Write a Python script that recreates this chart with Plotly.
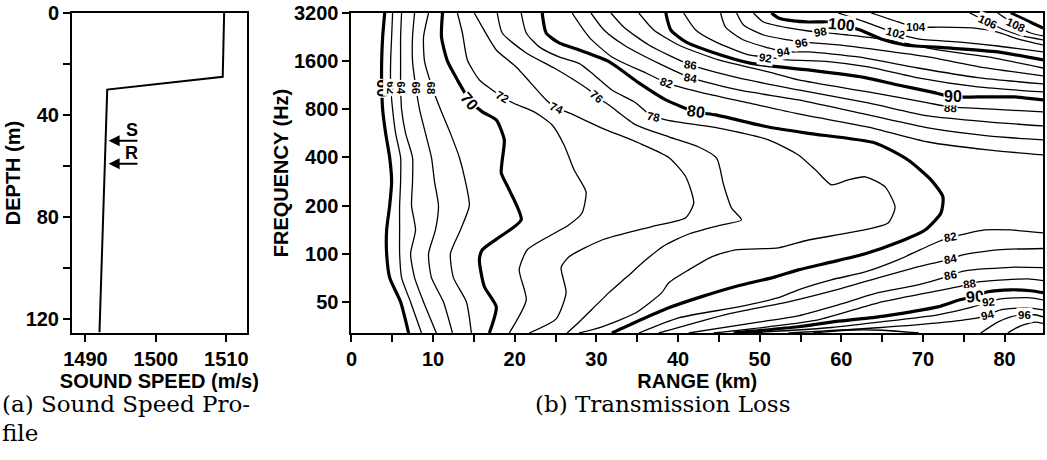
import numpy as np
import plotly.graph_objects as go

# ---------------- (a) sound speed profile ----------------
profile_speed = [1509.7, 1509.5, 1493.1, 1492.0]
profile_depth = [0, 25, 30, 125]
source_depth = 50
receiver_depth = 59
depth_ticks = [0, 20, 40, 60, 80, 100, 120]
depth_ticktext = ["0", "", "40", "", "80", "", "120"]
speed_ticks = [1490, 1500, 1510]

# ---------------- (b) transmission loss contours (dB) ----------------
freq_std = [3200, 2263, 1600, 1131, 800, 566, 400, 283, 200, 141, 100, 71, 50, 32]

range_60 = [4.07, 3.82, 3.70, 3.70, 3.82, 4.19, 4.68, 4.92, 4.68, 4.31, 4.31, 4.68, 6.02, 7.0]
range_62 = [5.04, 4.92, 4.80, 4.80, 5.04, 5.41, 6.02, 6.02, 5.90, 5.90, 5.90, 6.14, 7.24, 8.58]
range_64 = [6.14, 6.02, 6.02, 6.02, 6.14, 6.63, 7.48, 7.48, 7.36, 7.85, 7.24, 7.73, 8.83, 10.4]
range_66 = [7.73, 7.48, 7.48, 7.85, 8.34, 9.07, 9.80, 10.17, 10.66, 10.29, 9.44, 9.80, 11.27, 12.37]
range_68 = [9.44, 8.83, 8.95, 9.80, 10.90, 12.12, 13.22, 13.96, 14.44, 13.35, 12.12, 12.49, 14.08, 14.69]

range_70 = [11.15, 11.03, 11.76, 12.98, 14.44, 16.03, 17.74, 18.72, 18.47, 18.35, 19.33, 20.79, 18.1, 16.03, 15.67, 16.27, 17.74, 16.89]
freq_70 = [3200, 2263, 1600, 1221, 916, 771, 687, 515, 386, 320, 251, 163, 127, 106, 91.7, 62.5, 46.6, 32]

range_72 = [12.98, 13.59, 14.2, 15.67, 17.25, 18.47, 19.94, 22.38, 24.58, 26.04, 27.26, 28.73, 28.24, 26.65, 23.97, 21.53, 20.55, 21.41, 19.33]
freq_72 = [3200, 2400, 1628, 1221, 1057, 956, 870, 771, 639, 479, 335, 244, 180, 152, 127, 106, 79.4, 51.6, 32]

range_74 = [15.05, 16.03, 17.74, 20.18, 23.85, 25.07, 26.65, 30.68, 35.2, 38.87, 40.94, 41.92, 40.94, 36.79, 30.68, 26.65, 25.68, 26.29, 25.07, 21.77]
freq_74 = [3200, 2610, 1880, 1470, 916, 816, 760, 611, 493, 400, 303, 208, 168, 148, 122, 95.8, 82.4, 57.2, 39.2, 32]

range_76 = [17.86, 18.47, 21.41, 24.83, 27.27, 29.1, 30.07, 31.54, 34.84, 38.87, 42.53, 44.73, 45.58, 46.56, 47.78,
            44.97, 41.31, 38.25, 36.06, 33.74, 31.54, 27.88, 26.41]
freq_76 = [3200, 2400, 1800, 1450, 1221, 1057, 956, 852, 639, 538, 465, 396, 270, 193, 163,
           150, 133, 112, 91.7, 71.8, 57.2, 37.5, 32]

range_78 = [20.79, 21.41, 23.0, 25.43, 27.88, 29.71, 31.9, 34.84, 36.42, 38.5, 44.97, 51.08, 54.74, 56.82, 58.77,
            60.85, 62.92, 65.36, 66.58, 65.73, 60.85, 55.96, 52.30, 47.04, 44.11, 41.31, 38.87, 38.01, 34.84, 30.68, 27.88]
freq_78 = [3200, 2400, 1965, 1700, 1550, 1312, 1057, 877, 749, 687, 611, 515, 415, 335, 270,
           290, 303, 262, 196, 156, 135, 122, 109, 106, 95.8, 79.4, 66.0, 57.2, 42.8, 35.0, 32]

range_80 = [23.36, 23.85, 25.43, 27.88, 31.54, 35.2, 38.5, 42.16, 44.6, 51.08, 55.96, 64.14, 68.17, 70.98, 72.44,
            72.2, 70.25, 66.95, 62.92, 58.77, 54.74, 51.93, 47.04, 42.89, 38.87, 34.84, 31.9]
freq_80 = [3200, 2400, 2080, 1880, 1590, 1170, 916, 771, 738, 620, 566, 493, 386, 290, 227,
           180, 141, 118, 100, 88.8, 79.4, 71.8, 62.5, 54.0, 46.0, 37.5, 32]

# upper (high-frequency) family
range_82_hi = [27.02, 29.1, 31.9, 36.06, 38.62, 42.53, 48.63, 54.74, 63.29, 70.62, 77.94, 84.7]
freq_82_hi = [3200, 2263, 1700, 1350, 1170, 1028, 877, 749, 620, 500, 446, 415]
range_84_hi = [29.34, 30.93, 33.37, 37.64, 41.55, 47.41, 54.74, 63.29, 70.62, 77.94, 84.7]
freq_84_hi = [3200, 2506, 2020, 1550, 1263, 1057, 916, 738, 612, 546, 515]
range_86_hi = [31.78, 33.37, 36.42, 41.55, 47.41, 54.74, 63.29, 70.62, 77.94, 84.7]
freq_86_hi = [3200, 2610, 2020, 1515, 1257, 1057, 877, 728, 668, 630]
range_88_hi = [35.2, 37.03, 40.08, 44.97, 51.08, 54.74, 63.29, 70.62, 73.42, 77.94, 84.7]
freq_88_hi = [3200, 2506, 2020, 1628, 1371, 1221, 1028, 877, 828, 805, 771]
range_90_hi = [38.5, 39.11, 40.94, 44.11, 48.99, 55.96, 62.92, 66.95, 70.98, 73.66, 76.71, 81.23, 84.7]
freq_90_hi = [3200, 2506, 2110, 1828, 1550, 1410, 1263, 1136, 1028, 956, 956, 956, 916]
range_92_hi = [40.69, 42.16, 44.6, 48.63, 50.7, 53.52, 58.4, 63.29, 69.39, 76.71, 84.7]
freq_92_hi = [3200, 2506, 2110, 1750, 1700, 1628, 1590, 1472, 1257, 1104, 1028]
range_94_hi = [45.21, 45.82, 48.02, 51.08, 52.91, 55.96, 62.07, 69.39, 76.71, 84.7]
freq_94_hi = [3200, 2610, 2171, 1935, 1828, 1828, 1700, 1450, 1263, 1153]
range_96_hi = [47.17, 48.02, 50.46, 53.52, 55.1, 59.62, 64.5, 70.62, 76.71, 84.7]
freq_96_hi = [3200, 2694, 2332, 2171, 2110, 2020, 1880, 1700, 1480, 1294]
range_98_hi = [49.24, 50.46, 53.52, 55.96, 57.42, 60.85, 65.73, 71.83, 77.94, 84.7]
freq_98_hi = [3200, 2812, 2581, 2470, 2434, 2332, 2171, 1880, 1700, 1450]
range_100 = [51.44, 52.3, 54.13, 55.96, 58.4, 59.99, 62.31, 64.87, 67.8, 73.05, 79.15, 84.7]
freq_100 = [3200, 2980, 2855, 2812, 2812, 2694, 2506, 2203, 2020, 1935, 1828, 1628]
range_102 = [59.62, 63.29, 66.58, 69.39, 74.27, 79.15, 84.7]
freq_102 = [3200, 2770, 2400, 2203, 2110, 1990, 1828]
range_104 = [63.66, 66.95, 69.14, 71.83, 76.1, 79.15, 81.6, 84.7]
freq_104 = [3200, 2812, 2610, 2610, 2581, 2434, 2203, 2020]
range_106 = [75.73, 77.94, 80.01, 82.21, 84.7]
freq_106 = [3200, 2812, 2506, 2300, 2171]
range_108 = [79.15, 81.36, 83.19, 84.7]
freq_108 = [3200, 2694, 2400, 2300]
range_110 = [80.74, 84.7]
freq_110 = [3200, 2581]

# lower (low-frequency) family
range_82_lo = [35.2, 40.08, 47.41, 52.3, 54.74, 58.77, 62.92, 66.95, 71.83, 73.42, 77.57, 80.74, 84.7]
freq_82_lo = [32, 39.8, 46.6, 53.2, 59.6, 68.8, 77.1, 91.7, 119, 127, 141, 141, 135]
range_84_lo = [37.64, 46.19, 53.52, 58.77, 64.5, 69.02, 71.83, 73.42, 74.88, 79.15, 84.7]
freq_84_lo = [32, 42.2, 50.1, 58.4, 70.8, 81.9, 88.8, 93, 98.5, 106, 108]
range_86_lo = [41.31, 49.85, 54.74, 59.62, 64.5, 69.39, 72.44, 73.42, 75.13, 80.74, 84.7]
freq_86_lo = [32, 37.4, 41.0, 48.0, 57.2, 64.0, 70.8, 73.9, 78.3, 82.4, 81.9]
range_88_lo = [44.36, 51.08, 57.17, 64.5, 70.62, 74.52, 75.74, 77.08, 82.82, 84.7]
freq_88_lo = [32, 35.0, 38.7, 49.4, 57.2, 62.5, 65, 67, 69.8, 68]
range_90_lo = [46.8, 54.74, 58.77, 64.5, 68.52, 71.83, 74.52, 76.35, 77.94, 80.74, 83.19, 84.7]
freq_90_lo = [32, 35.0, 37.4, 40.4, 43.4, 46.6, 51.6, 54.0, 57.9, 59.6, 58.8, 57.2]
range_92_lo = [48.63, 58.4, 64.5, 71.83, 76.1, 78.06, 79.52, 82.82, 84.7]
freq_92_lo = [32, 34.5, 37.4, 41.6, 46.6, 50.1, 52.3, 53.2, 51.6]
range_94_lo = [53.52, 64.5, 72.68, 76.71, 77.94, 79.52, 82.82, 84.7]
freq_94_lo = [32, 34.5, 37.4, 39.8, 41.6, 44.7, 46.0, 44.7]
range_96_lo = [77.08, 79.15, 80.74, 82.46, 83.68, 84.7]
freq_96_lo = [32, 37.4, 40.4, 41.6, 41.6, 40.4]
range_96_arc = [56.5, 60.5, 65.0, 69.5]
freq_96_arc = [32, 33.3, 33.3, 32]
range_98_lo = [80.38, 81.97, 83.68, 84.7]
freq_98_lo = [32, 35.5, 37.4, 36.8]

# contour labels
label_text = ["60", "62", "64", "66", "68", "70", "72", "74", "76", "78", "80",
              "82", "84", "86", "88", "90", "92", "94", "96", "98", "100", "102", "104", "106", "108",
              "82", "84", "86", "88", "90", "92", "94", "96"]
label_range = [3.70, 4.80, 6.02, 7.85, 9.80, 14.44, 18.47, 25.07, 30.07, 37.03, 42.16,
               38.62, 41.55, 41.55, 73.42, 73.66, 50.7, 52.9, 55.1, 57.42, 59.99, 66.58, 69.14, 77.94, 81.36,
               73.42, 73.42, 73.42, 75.74, 76.35, 78.06, 77.94, 82.46]
label_freq = [1088, 1088, 1088, 1088, 1088, 891, 956, 816, 956, 718, 771,
              1170, 1263, 1515, 815, 960, 1680, 1828, 2080, 2434, 2694, 2400, 2610, 2820, 2694,
              127, 93, 73.9, 65, 54.1, 50.1, 41.6, 41.6]
label_angle = [90, 90, 90, 90, 90, 50, 30, 25, 40, 12, 8,
               20, 10, 8, 3, 0, 8, -10, -10, -10, 5, 15, 0, 25, 25,
               -10, -10, -10, -8, -5, -5, -15, 0]

range_ticks = list(range(0, 85, 5))
range_ticktext = [str(v) if v % 10 == 0 else "" for v in range_ticks]
freq_ticks = [50, 100, 200, 400, 800, 1600, 3200]

contours = [
    (60, range_60, freq_std), (62, range_62, freq_std), (64, range_64, freq_std),
    (66, range_66, freq_std), (68, range_68, freq_std), (70, range_70, freq_70),
    (72, range_72, freq_72), (74, range_74, freq_74), (76, range_76, freq_76),
    (78, range_78, freq_78), (80, range_80, freq_80),
    (82, range_82_hi, freq_82_hi), (84, range_84_hi, freq_84_hi), (86, range_86_hi, freq_86_hi),
    (88, range_88_hi, freq_88_hi), (90, range_90_hi, freq_90_hi), (92, range_92_hi, freq_92_hi),
    (94, range_94_hi, freq_94_hi), (96, range_96_hi, freq_96_hi), (98, range_98_hi, freq_98_hi),
    (100, range_100, freq_100), (102, range_102, freq_102), (104, range_104, freq_104),
    (106, range_106, freq_106), (108, range_108, freq_108), (110, range_110, freq_110),
    (82, range_82_lo, freq_82_lo), (84, range_84_lo, freq_84_lo), (86, range_86_lo, freq_86_lo),
    (88, range_88_lo, freq_88_lo), (90, range_90_lo, freq_90_lo), (92, range_92_lo, freq_92_lo),
    (94, range_94_lo, freq_94_lo), (96, range_96_lo, freq_96_lo), (96, range_96_arc, freq_96_arc),
    (98, range_98_lo, freq_98_lo),
]

SANS = "Liberation Sans, Arial, sans-serif"
SERIF = "DejaVu Serif, serif"
BOLD = dict(family=SANS, size=20, color="black", weight="bold")

fig = go.Figure()

# panel (a)
fig.add_trace(go.Scatter(x=profile_speed, y=profile_depth, mode="lines",
                         line=dict(color="black", width=2), xaxis="x", yaxis="y",
                         showlegend=False, hoverinfo="skip"))

# panel (b)
for level, rr, ff in contours:
    thick = level % 10 == 0
    fig.add_trace(go.Scatter(x=rr, y=ff, mode="lines",
                             line=dict(color="black", width=3.2 if thick else 1.3,
                                       shape="spline", smoothing=0.6),
                             xaxis="x2", yaxis="y2", showlegend=False, hoverinfo="skip"))

annotations = []
for t, r, f, a in zip(label_text, label_range, label_freq, label_angle):
    thick = int(t) % 10 == 0
    annotations.append(dict(x=r, y=np.log10(f), xref="x2", yref="y2", text=t, showarrow=False,
                            textangle=a, bgcolor="white", borderpad=0 if (thick or t == "88") else 1,
                            font=dict(family=SANS, size=16 if thick else 11.5, color="black",
                                      weight="bold")))

# source / receiver arrows
for name, d in zip(["S", "R"], [source_depth, receiver_depth]):
    annotations.append(dict(x=1493.3, y=d, ax=1497.6, ay=d, xref="x", yref="y", axref="x", ayref="y",
                            text="", showarrow=True, arrowhead=2, arrowsize=1.1, arrowwidth=2,
                            arrowcolor="black"))
    annotations.append(dict(x=1496.6, y=d - 4.2, xref="x", yref="y", text=name, showarrow=False,
                            font=dict(family=SANS, size=18, color="black", weight="bold")))

# captions
annotations.append(dict(x=-0.074, y=-0.221, xref="paper", yref="paper", xanchor="left", yanchor="middle",
                        text="(a) Sound Speed Pro-", showarrow=False,
                        font=dict(family=SERIF, size=23, color="black")))
annotations.append(dict(x=-0.074, y=-0.314, xref="paper", yref="paper", xanchor="left", yanchor="middle",
                        text="file", showarrow=False, font=dict(family=SERIF, size=23, color="black")))
annotations.append(dict(x=0.6084, y=-0.221, xref="paper", yref="paper", xanchor="center", yanchor="middle",
                        text="(b) Transmission Loss", showarrow=False,
                        font=dict(family=SERIF, size=23, color="black")))

axis_common = dict(showline=True, linewidth=2, linecolor="black", mirror=True, showgrid=False,
                   zeroline=False, ticks="outside", ticklen=7, tickwidth=2, tickcolor="black",
                   tickfont=BOLD)

fig.update_layout(
    width=1047, height=460, margin=dict(l=72, r=2, t=13, b=127),
    paper_bgcolor="white", plot_bgcolor="white",
    xaxis=dict(domain=[0, 0.1799], range=[1488.1, 1512.9], tickvals=speed_ticks, anchor="y",
               title=dict(text="SOUND SPEED (m/s)", font=BOLD, standoff=4), **axis_common),
    yaxis=dict(domain=[0, 1], range=[125.3, 0], tickvals=depth_ticks, ticktext=depth_ticktext, anchor="x",
               title=dict(text="DEPTH (m)", font=BOLD, standoff=0), **axis_common),
    xaxis2=dict(domain=[0.2878, 1], range=[0, 84.7], tickvals=range_ticks, ticktext=range_ticktext,
                anchor="y2", title=dict(text="RANGE (km)", font=BOLD, standoff=2), **axis_common),
    yaxis2=dict(domain=[0, 1], type="log", range=[np.log10(32), np.log10(3200)], tickvals=freq_ticks,
                ticktext=[str(v) for v in freq_ticks], anchor="x2",
                title=dict(text="FREQUENCY (Hz)", font=BOLD, standoff=0), **axis_common),
    annotations=annotations,
)

fig.write_html("out.html")
